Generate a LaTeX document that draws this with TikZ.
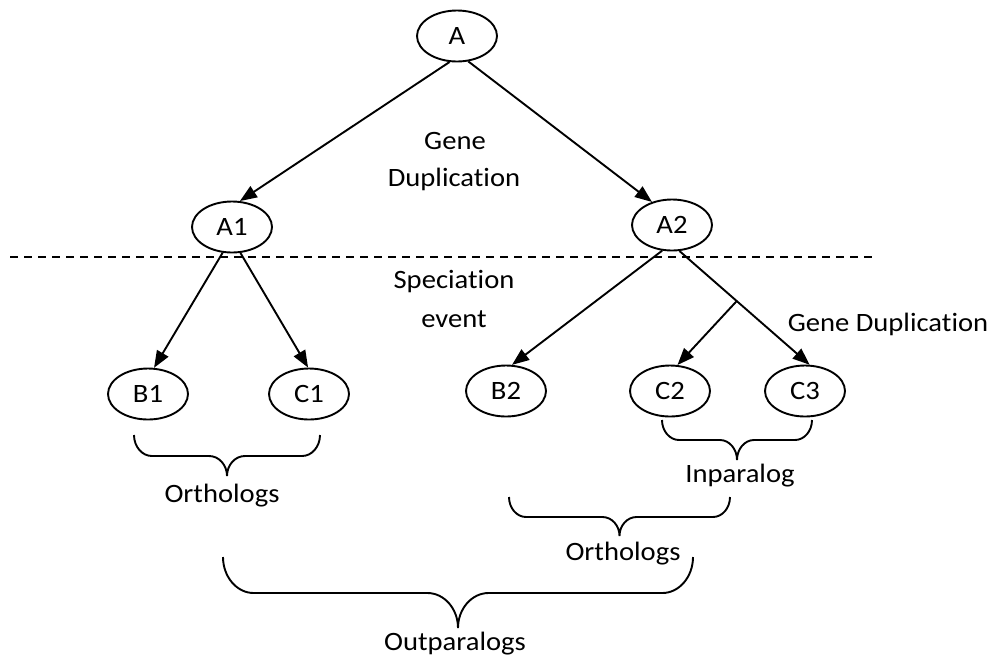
\documentclass[tikz,border=0pt]{standalone}
\usepackage{fontspec}
\setmainfont{Carlito}[FakeStretch=1.08,Ligatures=NoCommon]
\usetikzlibrary{arrows.meta,shapes.geometric}

% curly brace opening upwards, tip pointing down:
% #1 left x, #2 right x, #3 top of arms, #4 level of the bar, #5 tip y
\newcommand{\downbrace}[5]{%
  \pgfmathsetmacro{\bmid}{(#1+#2)/2}%
  \pgfmathsetmacro{\bd}{#4-#3}%
  \pgfmathsetmacro{\bt}{#5-#4}%
  \pgfmathsetmacro{\br}{0.85*\bd}%
  \draw[bracestyle] (#1,#3)
    .. controls +(0,0.55*\bd) and +(-0.55*\br,0) .. ({#1+\br},#4)
    -- ({\bmid-\br},#4)
    .. controls +(0.55*\br,0) and +(0,-0.55*\bt) .. (\bmid,#5)
    .. controls +(0,-0.55*\bt) and +(-0.55*\br,0) .. ({\bmid+\br},#4)
    -- ({#2-\br},#4)
    .. controls +(0.55*\br,0) and +(0,0.55*\bd) .. (#2,#3);}

\begin{document}
\begin{tikzpicture}[x=1pt,y=-1pt,
  gene/.style={draw,ellipse,line width=1.9pt,minimum width=80pt,minimum height=51pt,inner sep=0pt},
  arr/.style={line width=1.9pt,-{Triangle[length=17pt,width=13pt]}},
  bracestyle/.style={line width=1.9pt},
  lbl/.style={anchor=base,inner sep=0pt},
  every node/.style={font=\fontsize{26.5}{42}\selectfont}]
\useasboundingbox (0,0) rectangle (993,657);

% gene nodes
\node[gene] (A)  at (457,36)  {A};
\node[gene] (A1) at (232,227) {A1};
\node[gene] (A2) at (672,225) {A2};
\node[gene] (B1) at (148,394) {B1};
\node[gene] (C1) at (309,394) {C1};
\node[gene] (B2) at (506,391) {B2};
\node[gene] (C2) at (670,391) {C2};
\node[gene] (C3) at (805,391) {C3};

% speciation boundary
\coordinate (dl) at (10,257);
\coordinate (dr) at (877,257);
\draw[line width=1.9pt,dash pattern=on 8pt off 6pt] (dl) -- (dr);

% tree edges
\draw[arr] (A.254) -- (A1.73);
\draw[arr] (A.294) -- (A2.131);
\draw[arr] (A1.250) -- (B1.77);
\draw[arr] (A1.288) -- (C1.92);
\draw[arr] (A2.249) -- (B2.77);
\draw[arr] (A2.286) -- coordinate[pos=0.44] (br) (C3.80);
\draw[arr] (br) -- (C2.74);

% event labels
\node[lbl] (g1) at (455,149) {Gene};
\node[lbl] (g2) at (454,186) {Duplication};
\node[lbl] (s1) at (454,288) {Speciation};
\node[lbl] (s2) at (454,327) {event};
\node[lbl] (gd) at (888,331) {Gene Duplication};

% groupings
\downbrace{134}{320}{435}{456}{476}
\node[lbl] (orth1) at (222,502) {Orthologs};
\downbrace{662}{812}{420}{440}{460}
\node[lbl] (inpar) at (740,482) {Inparalog};
\downbrace{509}{730}{497}{517}{536}
\node[lbl] (orth2) at (623,560) {Orthologs};
\downbrace{223}{693}{557}{593}{628}
\node[lbl] (outpar) at (455,650) {Outparalogs};
\end{tikzpicture}
\end{document}
